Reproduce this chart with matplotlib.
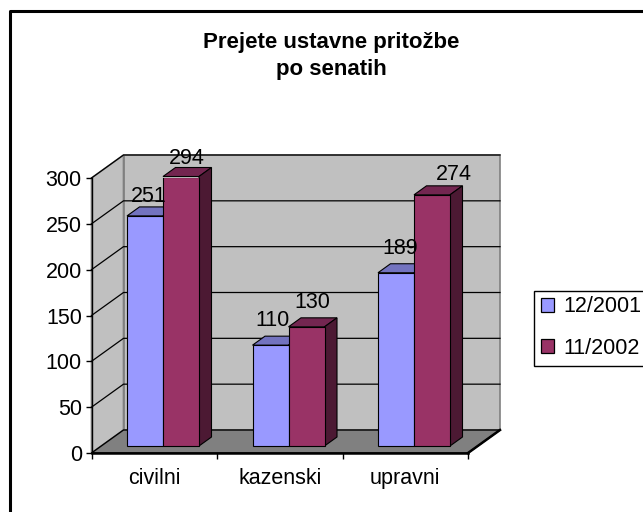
import matplotlib
matplotlib.use('Agg')
import matplotlib.pyplot as plt
from matplotlib.lines import Line2D
from matplotlib.patches import Polygon, Rectangle

categories = ['civilni', 'kazenski', 'upravni']
series_names = ['12/2001', '11/2002']
vals_2001 = [251, 110, 189]
vals_2002 = [294, 130, 274]
yticks = [0, 50, 100, 150, 200, 250, 300]

W, H = 643, 512
plt.rcParams['font.family'] = ['Liberation Sans', 'DejaVu Sans']

fig = plt.figure(figsize=(W / 100, H / 100), dpi=100)
# outer frame, only top and left are inside the crop
fig.add_artist(Line2D([9.5 / W, 9.5 / W, 1], [0, 1 - 10.5 / H, 1 - 10.5 / H], color='black', lw=2.2,
                      transform=fig.transFigure, zorder=-1))

# front plane of the fake 3d box
ax = fig.add_axes([91.5 / W, 1 - 453 / H, 376.5 / W, 275 / H])
ax.set_xlim(0, 3)
ax.set_ylim(0, 300)
ax.patch.set_visible(False)
for s in ['top', 'right']:
    ax.spines[s].set_visible(False)
ax.spines['left'].set_linewidth(1.0)
ax.spines['bottom'].set_linewidth(1.8)

# px sizes -> data units
ux = 3 / 376.5
uy = 300 / 275
wall_dx, wall_dy = 32 * ux, 23 * uy
bar_dx, bar_dy = 12.5 * ux, 9 * uy
bar_w = 36 * ux


def poly(pts, fc, ec, lw=0.9, z=1):
    ax.add_patch(Polygon(pts, closed=True, fc=fc, ec=ec, lw=lw, zorder=z, clip_on=False))


# walls
poly([(wall_dx, wall_dy), (3 + wall_dx, wall_dy), (3 + wall_dx, 300 + wall_dy), (wall_dx, 300 + wall_dy)],
     '#c0c0c0', '#808080', 1.2)
poly([(0, 0), (wall_dx, wall_dy), (wall_dx, 300 + wall_dy), (0, 300)], '#c0c0c0', '#808080', 1.2)
poly([(0, 0), (3, 0), (3 + wall_dx, wall_dy), (wall_dx, wall_dy)], '#808080', 'black', 1.0)
ax.plot([3, 3 + wall_dx], [0, wall_dy], color='black', lw=1.8, clip_on=False, zorder=2)
for t in yticks[1:]:
    ax.plot([0, wall_dx, 3 + wall_dx], [t, t + wall_dy, t + wall_dy], color='black', lw=0.9, zorder=2,
            clip_on=False)

# bars sit a bit inside the floor
base = 7 * uy


def bar3d(x, v, front, top, side, z):
    h = base + v
    ax.add_patch(Rectangle((x, base), bar_w, v, fc=front, ec='black', lw=0.8, zorder=z + 1))
    poly([(x, h), (x + bar_w, h), (x + bar_w + bar_dx, h + bar_dy), (x + bar_dx, h + bar_dy)], top, 'black', 0.8, z)
    poly([(x + bar_w, base), (x + bar_w + bar_dx, base + bar_dy), (x + bar_w + bar_dx, h + bar_dy), (x + bar_w, h)],
         side, 'black', 0.8, z)
    return h


# label offsets in px, the labels were moved by hand in the original
lift_2001 = [9, 14, 14]
lift_2002 = [7, 14, 10]
shift_2001 = [22, 20, 22]
shift_2002 = [24, 24, 40]

for i in range(3):
    x0 = i + 35.5 * ux
    h1 = bar3d(x0, vals_2001[i], '#9999ff', '#7373bf', '#4c4c7f', 3)
    h2 = bar3d(x0 + bar_w, vals_2002[i], '#993366', '#732650', '#4c1933', 5)
    ax.text(x0 + shift_2001[i] * ux, h1 + lift_2001[i] * uy, str(vals_2001[i]), ha='center', va='bottom',
            fontsize=15.5, zorder=8)
    ax.text(x0 + bar_w + shift_2002[i] * ux, h2 + lift_2002[i] * uy, str(vals_2002[i]), ha='center', va='bottom',
            fontsize=15.5, zorder=8)

ax.set_xticks([0, 1, 2, 3])
ax.set_xticklabels([])
ax.set_yticks(yticks)
ax.tick_params(axis='both', length=4, width=1.0, labelsize=15.5, pad=3)
for i, c in enumerate(categories):
    ax.text(i + 0.5, -28, c, ha='center', va='center', fontsize=15.5)

fig.text(331 / W, 1 - 48 / H, 'Prejete ustavne pritožbe', ha='center', va='baseline', fontsize=16, fontweight='bold')
fig.text(331 / W, 1 - 75 / H, 'po senatih', ha='center', va='baseline', fontsize=16, fontweight='bold')

# legend
fig.add_artist(Rectangle((534 / W, 1 - 366 / H), 112 / W, 75 / H, fc='white', ec='black', lw=1,
                         transform=fig.transFigure, zorder=-1))
handles = [Rectangle((0, 0), 1, 1, fc=c, ec='black', lw=0.9) for c in ['#9999ff', '#993366']]
fig.legend(handles, series_names, loc='center left', bbox_to_anchor=(541 / W, 1 - 327.5 / H), frameon=False,
           fontsize=15.5, handlelength=0.6, handleheight=0.6, handletextpad=0.45, labelspacing=0.93,
           borderpad=0, borderaxespad=0)

fig.savefig('out.png', dpi=100)
